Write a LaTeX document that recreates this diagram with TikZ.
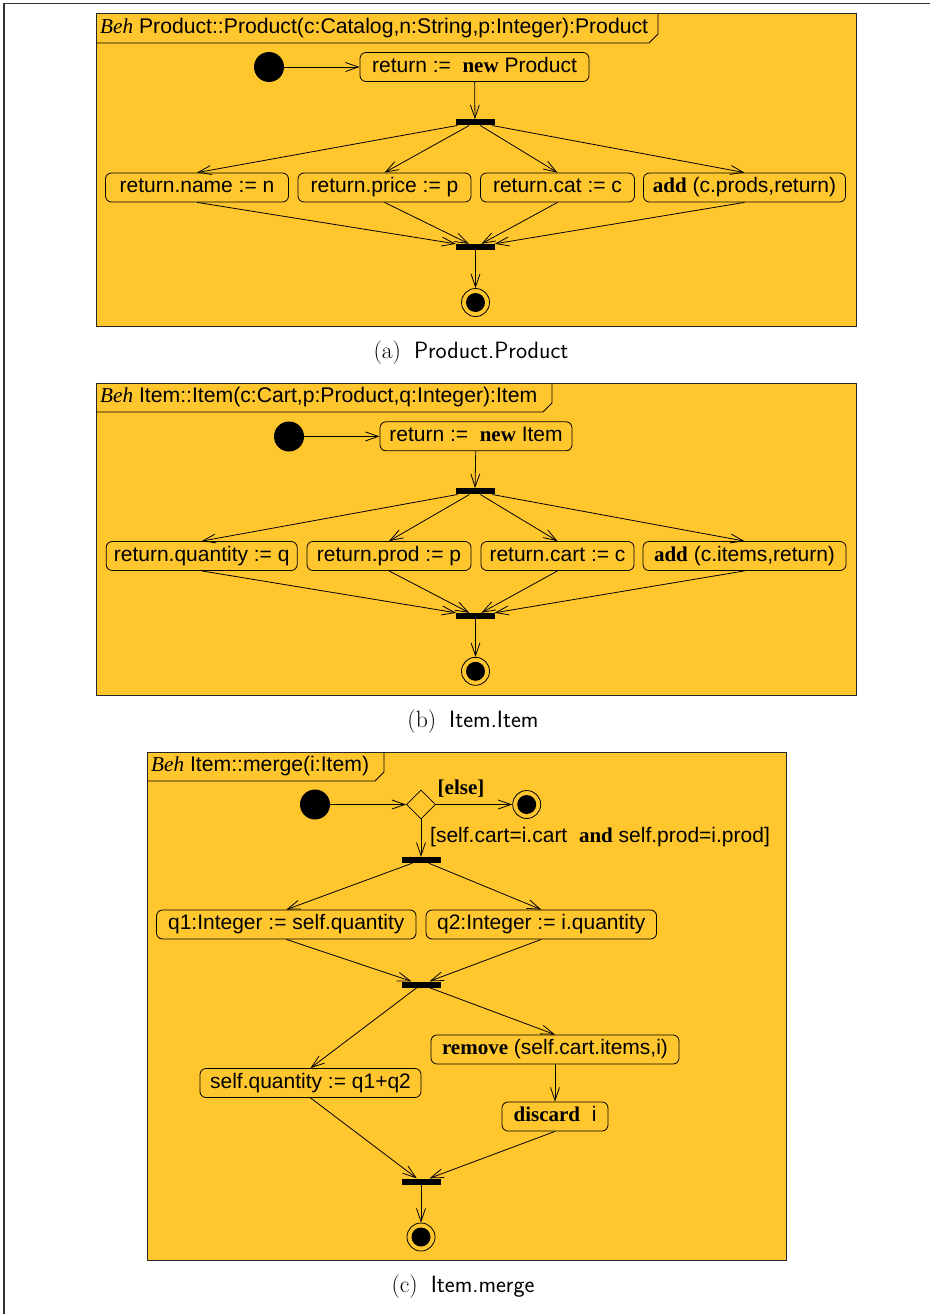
\documentclass[tikz,border=0pt]{standalone}
\usepackage{fontspec}
\newfontfamily\hv{Liberation Sans}
\newfontfamily\tms{Liberation Serif}
\usetikzlibrary{arrows.meta,shapes.geometric}
\definecolor{ylw}{RGB}{255,198,46}
\newcommand{\kw}[1]{{\tms\bfseries #1}}
\newcommand{\behkw}{{\tms\itshape Beh}}
\tikzset{
  act/.style={draw=black, fill=ylw, rounded corners=6pt, minimum height=29pt,
    inner xsep=5pt, inner ysep=0pt, line width=0.8pt, text height=15pt, text depth=4.5pt,
    font=\hv\fontsize{21}{25}\selectfont},
  barnode/.style={fill=black, minimum width=39pt, minimum height=6pt, inner sep=0pt},
  initnode/.style={circle, fill=black, minimum size=30pt, inner sep=0pt},
  finalnode/.style={circle, draw=black, fill=ylw, line width=0.8pt, minimum size=28pt,
    inner sep=0pt, path picture={\fill[black] (path picture bounding box.center) circle (9.5pt);}},
  decision/.style={diamond, draw=black, fill=ylw, line width=0.8pt, minimum width=29pt,
    minimum height=29pt, inner sep=0pt},
  flow/.style={draw=black, line width=0.8pt, -{Straight Barb[length=13pt,width=9pt]}},
  frame/.style={draw=black!85, fill=ylw, line width=1pt},
  tabline/.style={draw=black, line width=0.8pt},
  titletxt/.style={anchor=west, inner sep=0pt, font=\hv\fontsize{21.2}{25}\selectfont},
  guardtxt/.style={inner sep=0pt, font=\hv\fontsize{21}{25}\selectfont},
  captxt/.style={inner sep=0pt, font=\fontsize{23.6}{28}\selectfont},
}
\begin{document}
\begin{tikzpicture}[x=1pt,y=-1pt]
\useasboundingbox (0,0) rectangle (930,1314);
% outer page frame
\draw[line width=1.3pt, black!80] (4,1314) -- (4,3.5) -- (930,3.5);

% ================= (a) =================
\draw[frame] (96,14) rectangle (856,326);
\draw[tabline] (96,43) -- (649,43) -- (658,34) -- (658,14);
\node[titletxt] (tA) at (100,28.5) {\behkw{} Product::Product(c:Catalog,n:String,p:Integer):Product};
\node[initnode] (iA) at (269,67) {};
\node[act, minimum width=229pt] (bA0) at (474.5,67) {return :=\ \ \kw{new} Product};
\node[barnode] (fA) at (475,122.3) {};
\node[act, minimum width=183pt] (nA1) at (197,187.5) {return.name := n};
\node[act, minimum width=173pt] (nA2) at (384.5,187.5) {return.price := p};
\node[act, minimum width=154pt] (nA3) at (557.5,187.5) {return.cat := c};
\node[act, minimum width=202pt] (nA4) at (744.5,187.5) {\kw{add} (c.prods,return)};
\node[barnode] (jA) at (475.5,247) {};
\node[finalnode] (fnA) at (475.5,302.5) {};
\draw[flow] (iA) -- (bA0);
\draw[flow] (bA0) -- (fA);
\draw[flow] (fA) -- (nA1.north);
\draw[flow] (fA) -- (nA2.north);
\draw[flow] (fA) -- (nA3.north);
\draw[flow] (fA) -- (nA4.north);
\draw[flow] (nA1.south) -- (jA);
\draw[flow] (nA2.south) -- (jA);
\draw[flow] (nA3.south) -- (jA);
\draw[flow] (nA4.south) -- (jA);
\draw[flow] (jA) -- (fnA);
\node[captxt] (cA) at (471,353) {(a)\hspace{0.55em}\textsf{Product.Product}};

% ================= (b) =================
\draw[frame] (96,383) rectangle (856,695);
\draw[tabline] (96,412) -- (543,412) -- (552,403) -- (552,383);
\node[titletxt] (tB) at (100,397.5) {\behkw{} Item::Item(c:Cart,p:Product,q:Integer):Item};
\node[initnode] (iB) at (289,436.5) {};
\node[act, minimum width=192pt] (bB0) at (476,436.3) {return :=\ \ \kw{new} Item};
\node[barnode] (fB) at (475,491.3) {};
\node[act, minimum width=191pt] (nB1) at (201.7,556) {return.quantity := q};
\node[act, minimum width=164pt] (nB2) at (389,556) {return.prod := p};
\node[act, minimum width=153pt] (nB3) at (557.5,556) {return.cart := c};
\node[act, minimum width=203pt] (nB4) at (744.5,556) {\kw{add} (c.items,return)};
\node[barnode] (jB) at (475.5,616) {};
\node[finalnode] (fnB) at (475.5,671.3) {};
\draw[flow] (iB) -- (bB0);
\draw[flow] (bB0) -- (fB);
\draw[flow] (fB) -- (nB1.north);
\draw[flow] (fB) -- (nB2.north);
\draw[flow] (fB) -- (nB3.north);
\draw[flow] (fB) -- (nB4.north);
\draw[flow] (nB1.south) -- (jB);
\draw[flow] (nB2.south) -- (jB);
\draw[flow] (nB3.south) -- (jB);
\draw[flow] (nB4.south) -- (jB);
\draw[flow] (jB) -- (fnB);
\node[captxt] (cB) at (473,722) {(b)\hspace{0.55em}\textsf{Item.Item}};

% ================= (c) =================
\draw[frame] (147,752) rectangle (786,1260);
\draw[tabline] (147,781) -- (375,781) -- (384,772) -- (384,752);
\node[titletxt] (tC) at (151,766.5) {\behkw{} Item::merge(i:Item)};
\node[initnode] (iC) at (315,804.5) {};
\node[decision] (dC) at (421,804.5) {};
\node[finalnode] (fnC1) at (526.7,804.5) {};
\node[guardtxt] (gE) at (461,789) {\kw{[else]}};
\node[guardtxt, anchor=west] (gC) at (430,837) {[self.cart=i.cart\ \ \kw{and} self.prod=i.prod]};
\node[barnode] (fC) at (421,860) {};
\node[act, minimum width=259.5pt] (q1) at (286.3,924.5) {q1:Integer := self.quantity};
\node[act, minimum width=230.5pt] (q2) at (541.3,924.5) {q2:Integer := i.quantity};
\node[barnode] (jC) at (421,984.5) {};
\node[act, minimum width=248pt] (rm) at (555,1049.5) {\kw{remove} (self.cart.items,i)};
\node[act, minimum width=221pt] (sq) at (310.5,1083) {self.quantity := q1+q2};
\node[act, minimum width=106pt] (dc) at (555,1116.5) {\kw{discard}\ \ i};
\node[barnode] (jC2) at (421,1181.5) {};
\node[finalnode] (fnC2) at (421,1237) {};
\draw[flow] (iC) -- (dC);
\draw[flow] (dC) -- (fnC1);
\draw[flow] (dC) -- (fC);
\draw[flow] (fC) -- (q1.north);
\draw[flow] (fC) -- (q2.north);
\draw[flow] (q1.south) -- (jC);
\draw[flow] (q2.south) -- (jC);
\draw[flow] (jC) -- (sq.north);
\draw[flow] (jC) -- (rm.north);
\draw[flow] (rm) -- (dc);
\draw[flow] (sq.south) -- (jC2);
\draw[flow] (dc.south) -- (jC2);
\draw[flow] (jC2) -- (fnC2);
\node[captxt] (cC) at (463,1287) {(c)\hspace{0.55em}\textsf{Item.merge}};
\end{tikzpicture}
\end{document}
